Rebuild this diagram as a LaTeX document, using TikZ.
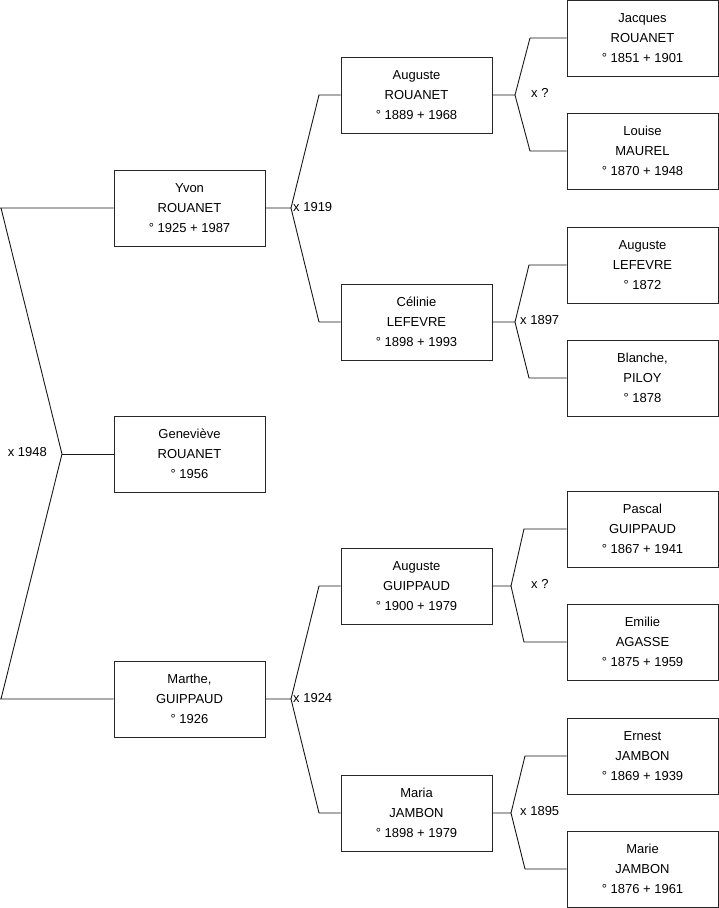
\documentclass[tikz,border=0pt]{standalone}
\usepackage{fontspec}
\setmainfont{Liberation Sans}
\begin{document}
\begin{tikzpicture}[x=1pt,y=-1pt,
  box/.style={draw=black!85,line width=1pt,fill=white,minimum width=151pt,minimum height=76pt,
    inner sep=0pt,align=center,font=\fontsize{13}{20}\selectfont},
  conn/.style={draw=black!90,line width=0.9pt},
  lbl/.style={inner sep=0pt,font=\fontsize{13}{15}\selectfont}]
\useasboundingbox (0,0) rectangle (719,908);
\fill[white] (0,0) rectangle (719,908);
% generation 1
\node[box] (yvon) at (189.5,208) {Yvon\\ROUANET\\° 1925 + 1987};
\node[box] (gen) at (189.5,454) {Geneviève\\ROUANET\\° 1956};
\node[box] (marthe) at (189.5,699) {Marthe,\\GUIPPAUD\\° 1926};
% generation 2
\node[box] (augr) at (416.5,95) {Auguste\\ROUANET\\° 1889 + 1968};
\node[box] (celinie) at (416.5,322) {Célinie\\LEFEVRE\\° 1898 + 1993};
\node[box] (augg) at (416.5,586) {Auguste\\GUIPPAUD\\° 1900 + 1979};
\node[box] (maria) at (416.5,813) {Maria\\JAMBON\\° 1898 + 1979};
% generation 3
\node[box] (jacques) at (642.5,38) {Jacques\\ROUANET\\° 1851 + 1901};
\node[box] (louise) at (642.5,151) {Louise\\MAUREL\\° 1870 + 1948};
\node[box] (augl) at (642.5,265) {Auguste\\LEFEVRE\\° 1872};
\node[box] (blanche) at (642.5,378) {Blanche,\\PILOY\\° 1878};
\node[box] (pascal) at (642.5,529) {Pascal\\GUIPPAUD\\° 1867 + 1941};
\node[box] (emilie) at (642.5,642) {Emilie\\AGASSE\\° 1875 + 1959};
\node[box] (ernest) at (642.5,756) {Ernest\\JAMBON\\° 1869 + 1939};
\node[box] (marie) at (642.5,869) {Marie\\JAMBON\\° 1876 + 1961};
% fork coordinates
\coordinate (j0) at (62,454);  \coordinate (a0) at (1,208);   \coordinate (b0) at (1,699);
\coordinate (j1) at (291,208); \coordinate (a1) at (319,95);  \coordinate (b1) at (319,322);
\coordinate (j2) at (291,699); \coordinate (a2) at (319,586); \coordinate (b2) at (319,813);
\coordinate (j3) at (515,95);  \coordinate (a3) at (530,38);  \coordinate (b3) at (530,151);
\coordinate (j4) at (515,322); \coordinate (a4) at (529,265); \coordinate (b4) at (529,378);
\coordinate (j5) at (511,586); \coordinate (a5) at (524,529); \coordinate (b5) at (524,642);
\coordinate (j6) at (511,813); \coordinate (a6) at (525,756); \coordinate (b6) at (525,869);
% connectors
\draw[conn] (yvon.west) -- (0,208) (a0) -- (j0) -- (b0) -- (0,699) -- (marthe.west);
\draw[conn] (j0) -- (gen.west);
\draw[conn] (yvon.east) -- (j1) (augr.west) -- (a1) -- (j1) -- (b1) -- (celinie.west);
\draw[conn] (marthe.east) -- (j2) (augg.west) -- (a2) -- (j2) -- (b2) -- (maria.west);
\draw[conn] (augr.east) -- (j3) (jacques.west) -- (a3) -- (j3) -- (b3) -- (louise.west);
\draw[conn] (celinie.east) -- (j4) (augl.west) -- (a4) -- (j4) -- (b4) -- (blanche.west);
\draw[conn] (augg.east) -- (j5) (pascal.west) -- (a5) -- (j5) -- (b5) -- (emilie.west);
\draw[conn] (maria.east) -- (j6) (ernest.west) -- (a6) -- (j6) -- (b6) -- (marie.west);
% labels
\node[lbl,anchor=east] (l0) at (47,452) {x 1948};
\node[lbl,anchor=west] (l1) at (293,207) {x 1919};
\node[lbl,anchor=west] (l2) at (293,698) {x 1924};
\node[lbl,anchor=west] (l3) at (531,93) {x ?};
\node[lbl,anchor=west] (l4) at (520,320) {x 1897};
\node[lbl,anchor=west] (l5) at (531,584) {x ?};
\node[lbl,anchor=west] (l6) at (520,811) {x 1895};
\end{tikzpicture}
\end{document}
